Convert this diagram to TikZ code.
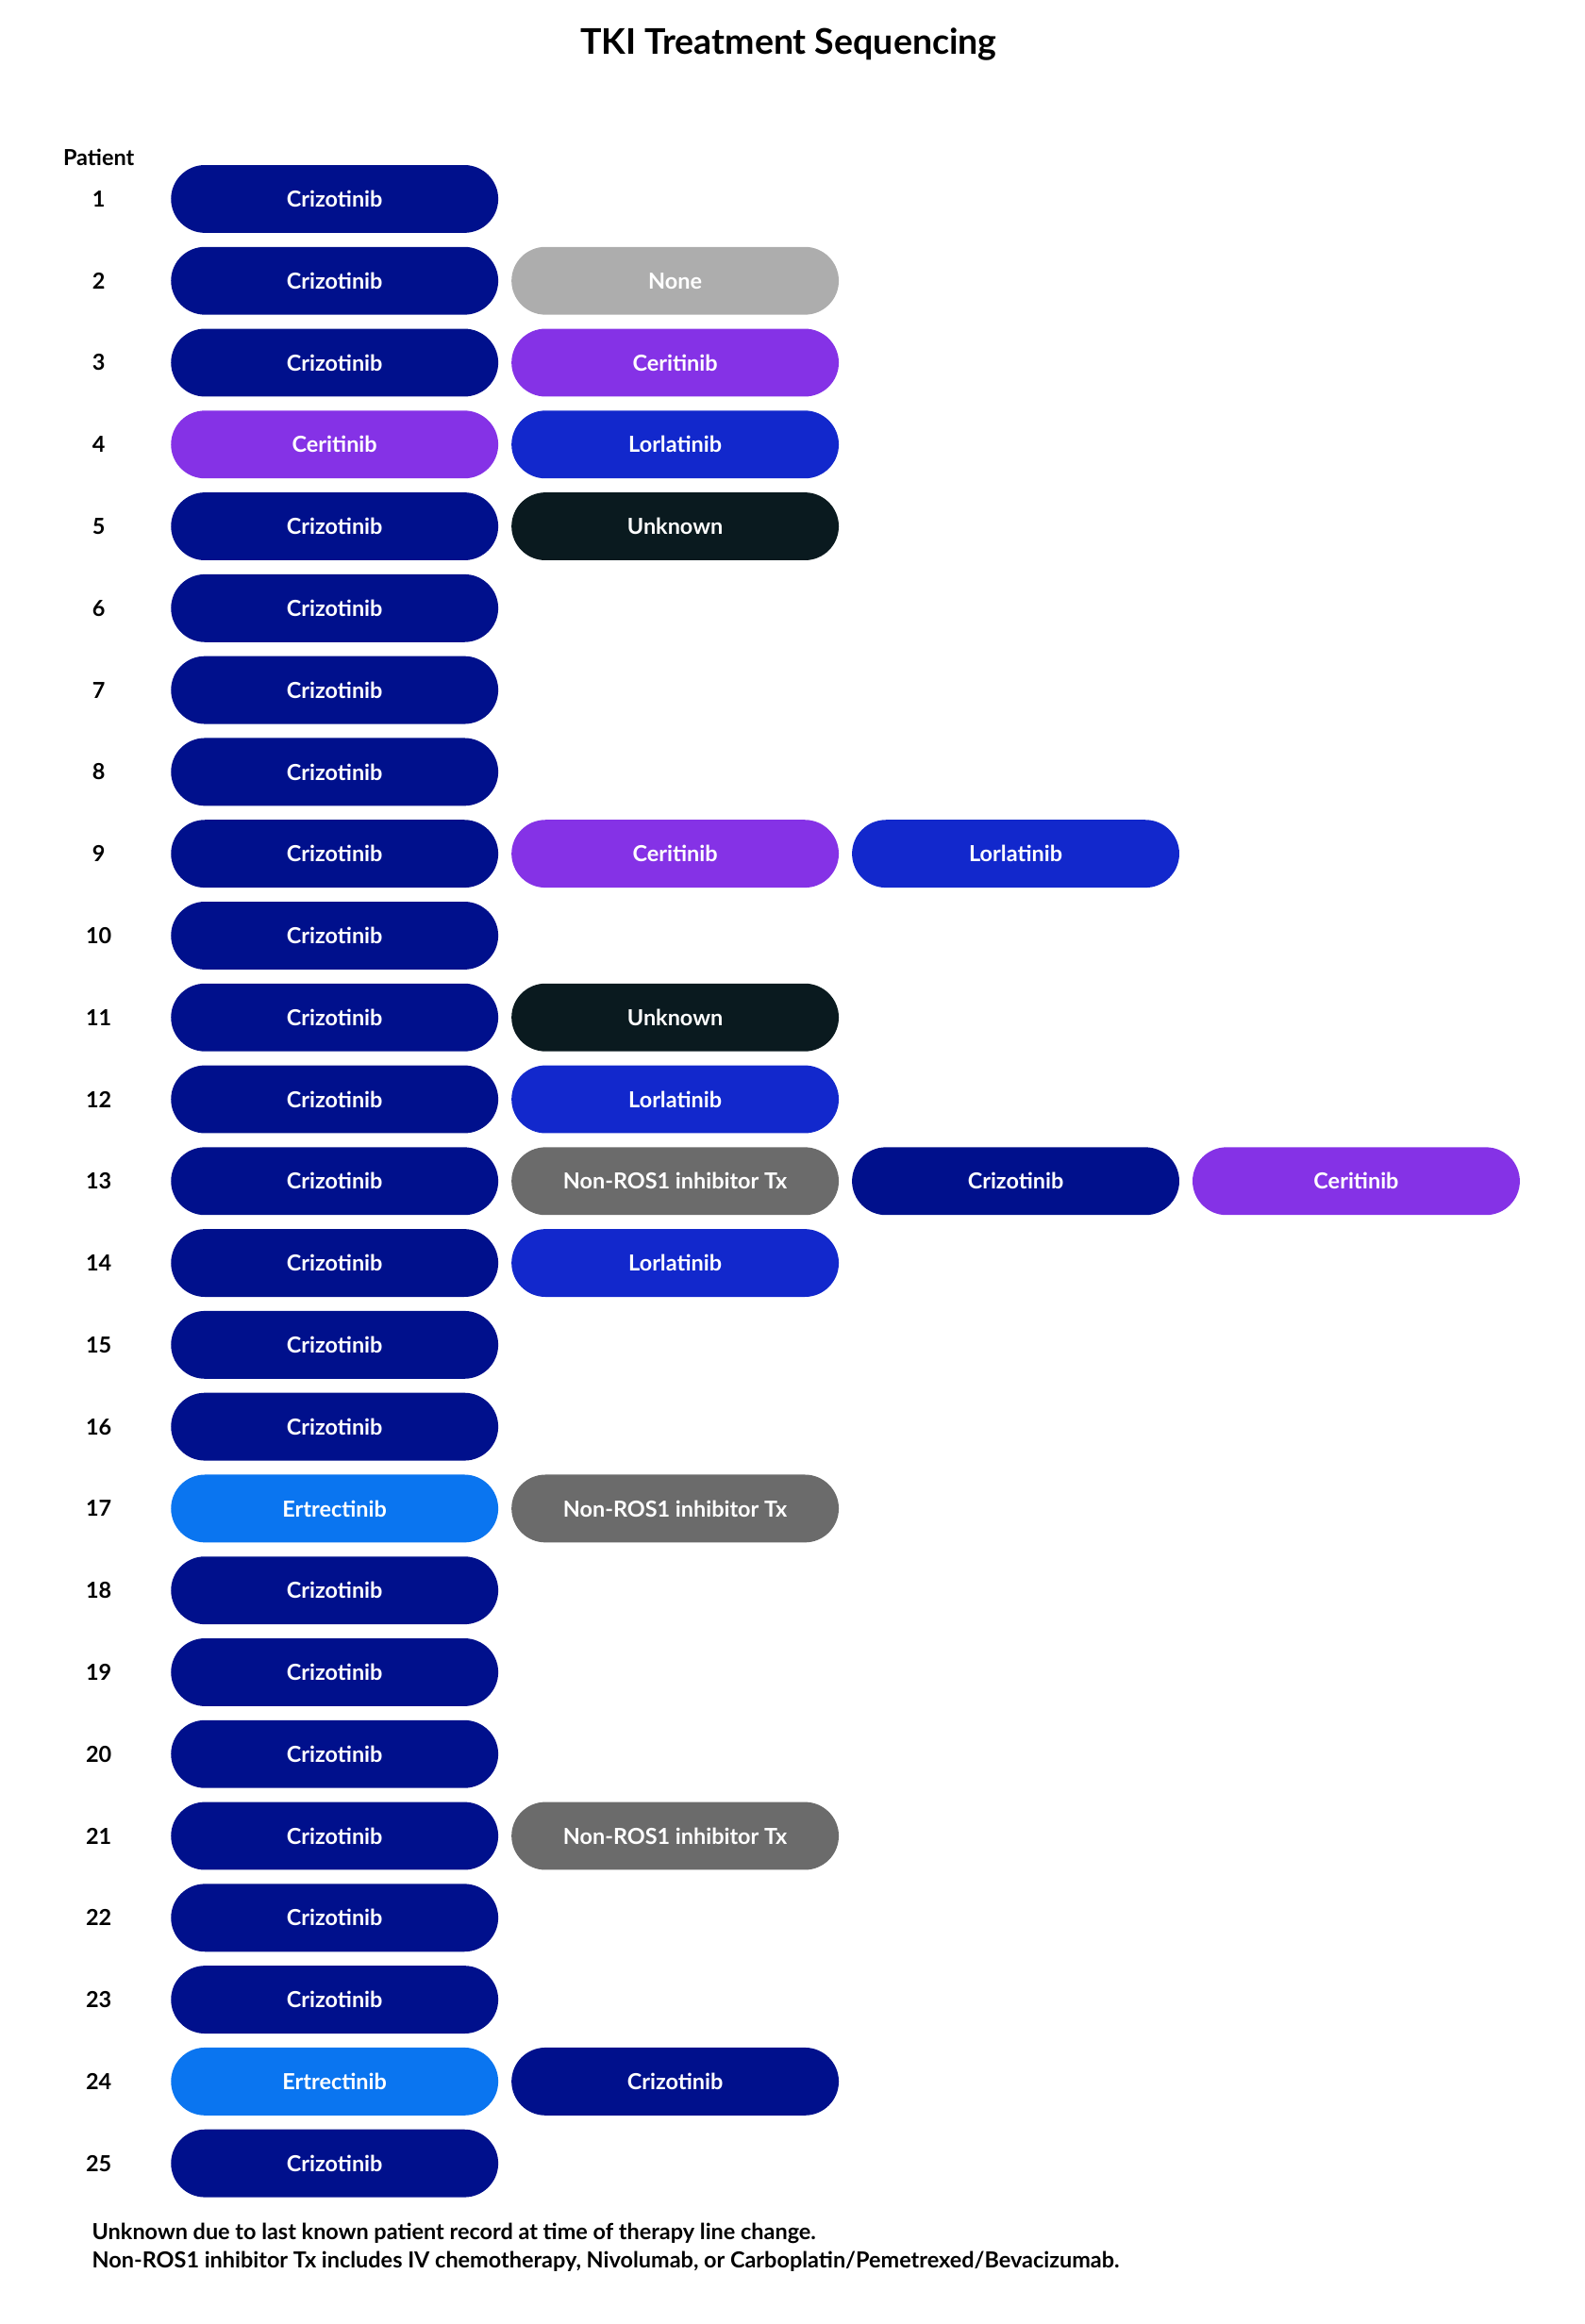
\documentclass[tikz,border=0pt]{standalone}
\usepackage{fontspec}
\setmainfont{Lato}
\definecolor{cCriz}{RGB}{0,16,140}
\definecolor{cNone}{RGB}{173,173,173}
\definecolor{cCeri}{RGB}{133,50,230}
\definecolor{cLorl}{RGB}{18,40,204}
\definecolor{cUnk}{RGB}{10,26,31}
\definecolor{cNon}{RGB}{107,107,107}
\definecolor{cErt}{RGB}{10,117,240}
\begin{document}
\begin{tikzpicture}[x=1pt,y=-1pt,
 pill/.style={rounded corners=23pt,minimum width=222pt,minimum height=46pt,inner sep=0pt,text=white,font=\fontsize{15}{15}\selectfont\bfseries},
 num/.style={font=\fontsize{15}{15}\selectfont\bfseries}]
\useasboundingbox (0,0) rectangle (1075,1577);
\node[font=\fontsize{24}{24}\selectfont\bfseries] (title) at (535,30) {TKI Treatment Sequencing};
\node[num] (plab) at (67,107) {Patient};
\def\rowy#1{135+(#1-1)*55.54}
\foreach \r/\a/\b/\c/\d in {
1/Criz//// ,2/Criz/None///,3/Criz/Ceri///,4/Ceri/Lorl///,5/Criz/Unk///,
6/Criz////,7/Criz////,8/Criz////,9/Criz/Ceri/Lorl//,10/Criz////,
11/Criz/Unk///,12/Criz/Lorl///,13/Criz/Non/Criz/Ceri/,14/Criz/Lorl///,15/Criz////,
16/Criz////,17/Ert/Non///,18/Criz////,19/Criz////,20/Criz////,
21/Criz/Non///,22/Criz////,23/Criz////,24/Ert/Criz///,25/Criz////}{}
\newcommand\lbl[1]{\ifx#1C\fi}
\def\drawp#1#2#3{%
 \def\t{#3}%
 \def\txtCriz{Crizotinib}\def\txtNone{None}\def\txtCeri{Ceritinib}\def\txtLorl{Lorlatinib}\def\txtUnk{Unknown}\def\txtNon{Non-ROS1 inhibitor Tx}\def\txtErt{Ertrectinib}%
 \node[pill,fill=c#3] (p#1-#2) at ({227+(#2-1)*231},{135+(#1-1)*55.54}) {\csname txt#3\endcsname};}
\foreach \r in {1,...,25}{\node[num] (n\r) at (67,{135+(\r-1)*55.54}) {\r};}
\drawp{1}{1}{Criz}
\drawp{2}{1}{Criz}\drawp{2}{2}{None}
\drawp{3}{1}{Criz}\drawp{3}{2}{Ceri}
\drawp{4}{1}{Ceri}\drawp{4}{2}{Lorl}
\drawp{5}{1}{Criz}\drawp{5}{2}{Unk}
\drawp{6}{1}{Criz}
\drawp{7}{1}{Criz}
\drawp{8}{1}{Criz}
\drawp{9}{1}{Criz}\drawp{9}{2}{Ceri}\drawp{9}{3}{Lorl}
\drawp{10}{1}{Criz}
\drawp{11}{1}{Criz}\drawp{11}{2}{Unk}
\drawp{12}{1}{Criz}\drawp{12}{2}{Lorl}
\drawp{13}{1}{Criz}\drawp{13}{2}{Non}\drawp{13}{3}{Criz}\drawp{13}{4}{Ceri}
\drawp{14}{1}{Criz}\drawp{14}{2}{Lorl}
\drawp{15}{1}{Criz}
\drawp{16}{1}{Criz}
\drawp{17}{1}{Ert}\drawp{17}{2}{Non}
\drawp{18}{1}{Criz}
\drawp{19}{1}{Criz}
\drawp{20}{1}{Criz}
\drawp{21}{1}{Criz}\drawp{21}{2}{Non}
\drawp{22}{1}{Criz}
\drawp{23}{1}{Criz}
\drawp{24}{1}{Ert}\drawp{24}{2}{Criz}
\drawp{25}{1}{Criz}
\node[num,anchor=west,align=left,font=\fontsize{15}{19}\selectfont\bfseries] (foot) at (59,1525) {Unknown due to last known patient record at time of therapy line change.\\Non-ROS1 inhibitor Tx includes IV chemotherapy, Nivolumab, or Carboplatin/Pemetrexed/Bevacizumab.};
\end{tikzpicture}
\end{document}
